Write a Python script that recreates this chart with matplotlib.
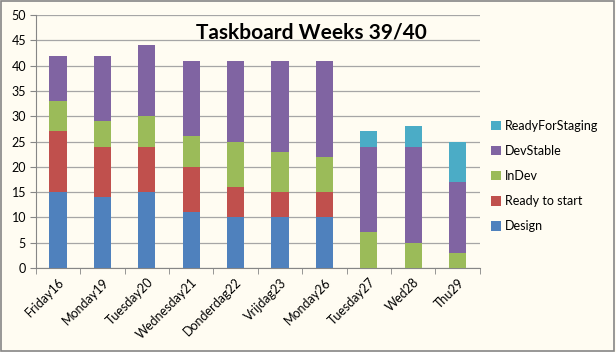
import matplotlib
matplotlib.use("Agg")
from matplotlib import pyplot as plt
import numpy as np

# data
days = ["Friday16", "Monday19", "Tuesday20", "Wednesday21", "Donderdag22",
        "Vrijdag23", "Monday26", "Tuesday27", "Wed28", "Thu29"]
design = [15, 14, 15, 11, 10, 10, 10, 0, 0, 0]
ready_to_start = [12, 10, 9, 9, 6, 5, 5, 0, 0, 0]
in_dev = [6, 5, 6, 6, 9, 8, 7, 7, 5, 3]
dev_stable = [9, 13, 14, 15, 16, 18, 19, 17, 19, 14]
ready_for_staging = [0, 0, 0, 0, 0, 0, 0, 3, 4, 8]

series = [("Design", design, "#4F81BD"),
          ("Ready to start", ready_to_start, "#C0504D"),
          ("InDev", in_dev, "#9BBB59"),
          ("DevStable", dev_stable, "#8064A2"),
          ("ReadyForStaging", ready_for_staging, "#4BACC6")]

bg = "#FFFCF2"
plt.rcParams['font.family'] = ['Lato', 'DejaVu Sans']

fig = plt.figure(figsize=(6.16, 3.52), dpi=100, facecolor=bg)
ax = fig.add_axes([0.058, 0.239, 0.721, 0.718])
ax.set_facecolor(bg)

x = np.arange(len(days))
bottom = np.zeros(len(days))
for name, vals, col in series:
    ax.bar(x, vals, 0.39, bottom=bottom, color=col, label=name, zorder=3)
    bottom += np.array(vals)

ax.set_xlim(-0.5, len(days) - 0.5)
ax.set_ylim(0, 50)
ax.set_yticks(range(0, 51, 5))
ax.yaxis.grid(True, color="#A6A6A6", lw=0.9, zorder=0)
ax.tick_params(axis="y", length=4, color="#868686", labelsize=9, pad=3)

ax.set_xticks(x)
ax.set_xticklabels(days, rotation=45, ha="right", rotation_mode="anchor", fontsize=9)
ax.tick_params(axis="x", length=0, pad=6)
ax.set_xticks(np.arange(-0.5, len(days)), minor=True)
ax.tick_params(axis="x", which="minor", length=4, color="#868686")

for s in ["top", "right"]:
    ax.spines[s].set_visible(False)
for s in ["left", "bottom"]:
    ax.spines[s].set_color("#868686")

ax.text(0.62, 0.93, "Taskboard Weeks 39/40", transform=ax.transAxes,
        ha="center", va="center", fontsize=15, fontweight="bold")

h, l = ax.get_legend_handles_labels()
fig.legend(h[::-1], l[::-1], loc="center left", bbox_to_anchor=(0.797, 0.50),
           frameon=False, fontsize=9, handlelength=0.8, handleheight=0.8,
           handletextpad=0.3, labelspacing=1.05, borderaxespad=0, borderpad=0)

fig.patches.append(plt.Rectangle((0.002, 0.003), 0.995, 0.994, transform=fig.transFigure,
                                 fill=False, edgecolor="#868686", lw=1.2))

fig.savefig("out.png", dpi=100, facecolor=bg)
